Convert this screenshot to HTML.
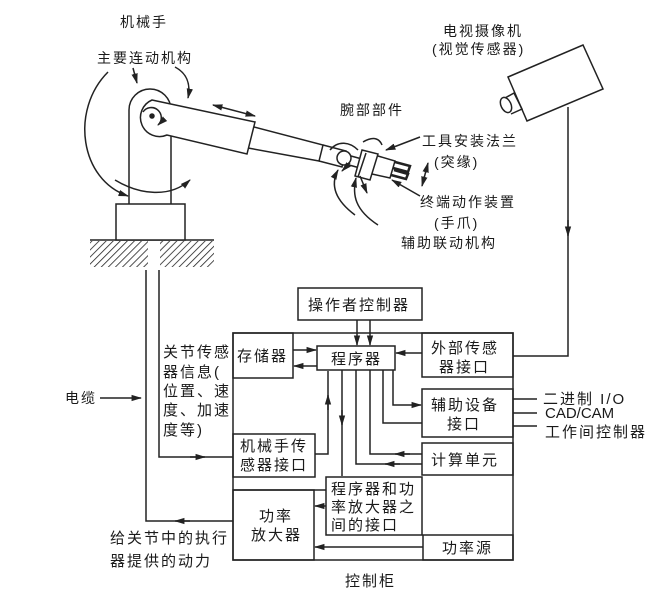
<!DOCTYPE html>
<html><head><meta charset="utf-8"><style>
html,body{margin:0;padding:0;background:#fff;}
svg{display:block;}
text{font-family:"Liberation Sans","Noto Sans CJK SC",sans-serif;fill:#1a1a1a;font-size:14px;letter-spacing:2px;}
</style></head><body>
<svg width="670" height="613" viewBox="0 0 670 613" xmlns="http://www.w3.org/2000/svg">
<defs>
<marker id="a" viewBox="0 0 10 10" refX="9" refY="5" markerWidth="7" markerHeight="7" orient="auto-start-reverse"><path d="M0,2 L10,5 L0,8 z" fill="#222"/></marker>
<pattern id="h" width="5" height="5" patternUnits="userSpaceOnUse" patternTransform="rotate(45)"><line x1="0" y1="0" x2="0" y2="5" stroke="#222" stroke-width="1.6"/></pattern>
</defs>
<g stroke="#222" stroke-width="1.5" fill="none">
<rect x="90" y="241" width="58" height="26" fill="url(#h)" stroke="none"/>
<rect x="160" y="241" width="54" height="26" fill="url(#h)" stroke="none"/>
<line x1="90" y1="240" x2="214" y2="240"/>
<rect x="116" y="204" width="69" height="36" fill="#fff"/>
<path d="M129,204 L129,110 A21,21 0 0 1 171,110 L171,204"/>
<path d="M152,100 L255,122 L247,154 L167,135 A17,17 0 0 1 152,100 Z" fill="#fff"/>
<circle cx="152" cy="116" r="2" fill="#222"/>
<path d="M143,112 A10,10 0 1 1 158,125" marker-end="url(#a)"/>
<path d="M254,127 L323,145 L319,161 L248,148"/>
<path d="M323,145 L346,151 L342,167 L319,161"/>
<circle cx="344" cy="158" r="7" fill="#fff"/>
<path d="M351,156 L362,159 M349,165 L360,168"/>
<path d="M362,150 L378,154 L370,180 L355,176 Z" fill="#fff"/>
<path d="M366,153 L358,177"/>
<path d="M378,156 L395,161 L390,178 L372,174"/>
<path d="M395,162 L410,166 L408,172 L393,168 M394,170 L408,174 L406,179 L391,175" stroke-width="2.5"/>
<path d="M108,72 C70,110 80,180 128,196" marker-end="url(#a)"/>
<path d="M133,68 L137,83" marker-end="url(#a)"/>
<path d="M175,67 C190,75 190,88 188,98" marker-end="url(#a)"/>
<path d="M115,180 C140,195 170,198 190,180" marker-end="url(#a)"/>
<path d="M213,105 L255,116" marker-start="url(#a)" marker-end="url(#a)"/>
<path d="M330,150 C338,140 350,142 358,150"/>
<path d="M363,142 C375,135 380,140 382,145"/>
<path d="M355,215 C335,200 330,185 338,170" marker-end="url(#a)"/>
<path d="M378,225 C355,210 352,195 356,178" marker-end="url(#a)"/>
<path d="M350,163 L342,171" marker-end="url(#a)"/>
<path d="M360,176 L367,193" marker-end="url(#a)"/>
<path d="M428,163 L422,186" marker-start="url(#a)" marker-end="url(#a)"/>
<path d="M420,137 L386,150" marker-end="url(#a)"/>
<path d="M420,196 L392,180" marker-end="url(#a)"/>
<path d="M508,77 L583,45 L603,89 L527,121 Z" fill="#fff"/>
<path d="M505,98 L514,93 L522,109 L511,114"/>
<ellipse cx="506" cy="105" rx="5" ry="8" transform="rotate(-25 506 105)" fill="#fff"/>
<path d="M568,107 L568,356 L513,356"/>
<path d="M568,220 L568,236" marker-end="url(#a)"/>
<path d="M159,270 L159,457 L233,457" />
<path d="M190,457 L205,457" marker-end="url(#a)"/>
<path d="M146,270 L146,521 L233,521"/>
<path d="M190,521 L175,521" marker-end="url(#a)"/>
<path d="M100,398 L141,398" marker-end="url(#a)"/>
<rect x="298" y="288" width="124" height="32"/>
<rect x="233" y="333" width="280" height="227"/>
<rect x="233" y="333" width="60" height="45"/>
<rect x="317" y="346" width="78" height="24"/>
<rect x="422" y="333" width="91" height="44"/>
<rect x="422" y="389" width="91" height="48"/>
<rect x="233" y="434" width="82" height="43"/>
<rect x="422" y="443" width="91" height="32"/>
<rect x="326" y="477" width="96" height="58"/>
<line x1="233" y1="490" x2="326" y2="490"/>
<rect x="233" y="490" width="81" height="70"/>
<rect x="423" y="535" width="90" height="25"/>
<path d="M357,320 L357,345" marker-end="url(#a)"/>
<path d="M370,320 L370,345" marker-end="url(#a)"/>
<path d="M293,350 L316,350" marker-end="url(#a)"/>
<path d="M317,366 L294,366" marker-end="url(#a)"/>
<path d="M422,353 L396,353" marker-end="url(#a)"/>
<path d="M393,370 L393,405 L421,405" marker-end="url(#a)"/>
<path d="M383,370 L383,423 L422,423"/>
<path d="M315,454 L328,454 L328,371" />
<path d="M328,410 L328,395" marker-end="url(#a)"/>
<path d="M342,370 L342,476"/>
<path d="M342,410 L342,425" marker-end="url(#a)"/>
<path d="M370,370 L370,454 L422,454"/>
<path d="M410,454 L395,454" marker-end="url(#a)"/>
<path d="M356,370 L356,464 L422,464"/>
<path d="M400,464 L385,464" marker-end="url(#a)"/>
<path d="M326,506 L315,506" marker-end="url(#a)"/>
<path d="M423,547 L315,547" marker-end="url(#a)"/>
<path d="M513,399 L537,399 M513,413 L537,413 M513,426 L537,426"/>
</g>
<g>
<text x="120" y="27">机械手</text>
<text x="97" y="63">主要连动机构</text>
<text x="340" y="115">腕部部件</text>
<text x="422" y="146">工具安装法兰</text>
<text x="434" y="167">(突缘)</text>
<text x="420" y="207">终端动作装置</text>
<text x="434" y="228">(手爪)</text>
<text x="401" y="248">辅助联动机构</text>
<text x="443" y="36">电视摄像机</text>
<text x="432" y="54">(视觉传感器)</text>
<text x="65" y="403">电缆</text>
<g>
<text x="163" y="357" style="font-size:15px">关节传感</text>
<text x="163" y="377" style="font-size:15px">器信息(</text>
<text x="163" y="396" style="font-size:15px">位置、速</text>
<text x="163" y="415" style="font-size:15px">度、加速</text>
<text x="163" y="435" style="font-size:15px">度等)</text>
<text x="110" y="543" style="font-size:15px">给关节中的执行</text>
<text x="110" y="566" style="font-size:15px">器提供的动力</text>
<text x="308" y="310" style="font-size:15px">操作者控制器</text>
<text x="237" y="361" style="font-size:15px">存储器</text>
<text x="331" y="364" style="font-size:15px">程序器</text>
<text x="431" y="353" style="font-size:15px">外部传感</text>
<text x="439" y="372" style="font-size:15px">器接口</text>
<text x="431" y="410" style="font-size:15px">辅助设备</text>
<text x="447" y="429" style="font-size:15px">接口</text>
<text x="240" y="451" style="font-size:15px">机械手传</text>
<text x="240" y="470" style="font-size:15px">感器接口</text>
<text x="431" y="465" style="font-size:15px">计算单元</text>
<text x="331" y="494" style="font-size:15px">程序器和功</text>
<text x="331" y="512" style="font-size:15px">率放大器之</text>
<text x="331" y="530" style="font-size:15px">间的接口</text>
<text x="259" y="521" style="font-size:15px">功率</text>
<text x="251" y="540" style="font-size:15px">放大器</text>
<text x="442" y="553" style="font-size:15px">功率源</text>
<text x="543" y="404" style="font-size:15px">二进制 I/O</text>
<text x="545" y="418" style="font-size:15px;letter-spacing:0">CAD/CAM</text>
<text x="545" y="437" style="font-size:15px">工作间控制器</text>
<text x="345" y="586" style="font-size:15px">控制柜</text>
</g>
</g>
</svg>
</body></html>
